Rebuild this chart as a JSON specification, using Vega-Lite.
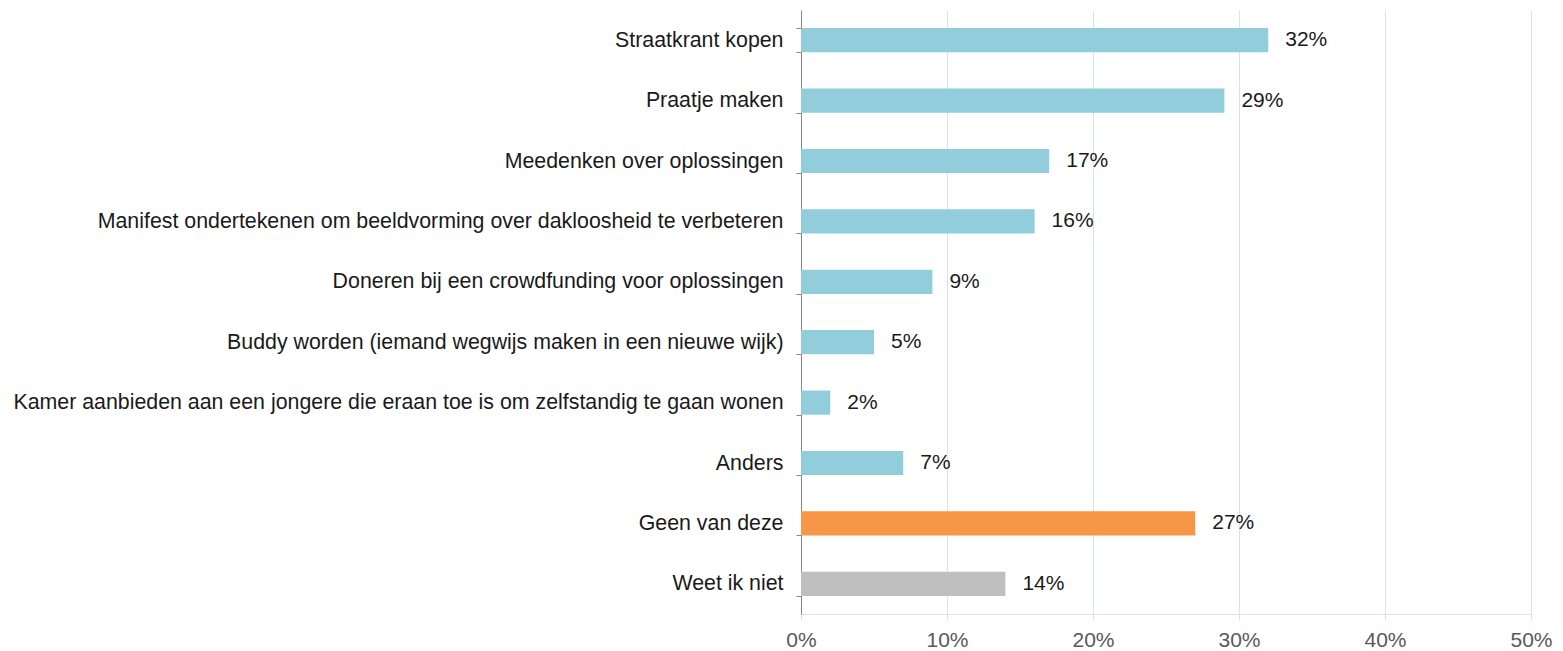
{
  "$schema": "https://vega.github.io/schema/vega-lite/v6.json",
  "autosize": "none",
  "width": 730,
  "height": 604,
  "padding": {"left": 801, "top": 10, "right": 32, "bottom": 37},
  "background": "white",
  "config": {"view": {"stroke": null}, "font": "Liberation Sans"},
  "data": {"values": [
    {"cat": "Straatkrant kopen", "v": 0.32, "grp": "a"},
    {"cat": "Praatje maken", "v": 0.29, "grp": "a"},
    {"cat": "Meedenken over oplossingen", "v": 0.17, "grp": "a"},
    {"cat": "Manifest ondertekenen om beeldvorming over dakloosheid te verbeteren", "v": 0.16, "grp": "a"},
    {"cat": "Doneren bij een crowdfunding voor oplossingen", "v": 0.09, "grp": "a"},
    {"cat": "Buddy worden (iemand wegwijs maken in een nieuwe wijk)", "v": 0.05, "grp": "a"},
    {"cat": "Kamer aanbieden aan een jongere die eraan toe is om zelfstandig te gaan wonen", "v": 0.02, "grp": "a"},
    {"cat": "Anders", "v": 0.07, "grp": "a"},
    {"cat": "Geen van deze", "v": 0.27, "grp": "b"},
    {"cat": "Weet ik niet", "v": 0.14, "grp": "c"}
  ]},
  "encoding": {
    "y": {"field": "cat", "type": "nominal", "sort": null,
      "scale": {"paddingInner": 0.6, "paddingOuter": 0.3},
      "axis": {"title": null, "domainColor": "#868686", "tickColor": "#868686", "tickSize": 5, "tickBand": "extent", "labelFontSize": 21.35, "labelColor": "#1a1a1a", "labelPadding": 13, "labelLimit": 0, "grid": false}},
    "x": {"field": "v", "type": "quantitative",
      "scale": {"domain": [0, 0.5]},
      "axis": {"title": null, "format": ".0%", "values": [0, 0.1, 0.2, 0.3, 0.4, 0.5], "grid": true, "gridColor": "#D9E1F2", "domainColor": "#D9E1F2", "tickColor": "#D9E1F2", "tickSize": 6, "labelFontSize": 21, "labelColor": "#595959", "labelPadding": 9, "labelFlush": false}}
  },
  "layer": [
    {"mark": {"type": "bar"},
     "encoding": {"color": {"field": "grp", "type": "nominal", "legend": null,
        "scale": {"domain": ["a", "b", "c"], "range": ["#92CDDC", "#F79646", "#BFBFBF"]}}}},
    {"mark": {"type": "text", "align": "left", "dx": 17, "fontSize": 21, "color": "#1a1a1a"},
     "encoding": {"text": {"field": "v", "type": "quantitative", "format": ".0%"}}}
  ]
}
